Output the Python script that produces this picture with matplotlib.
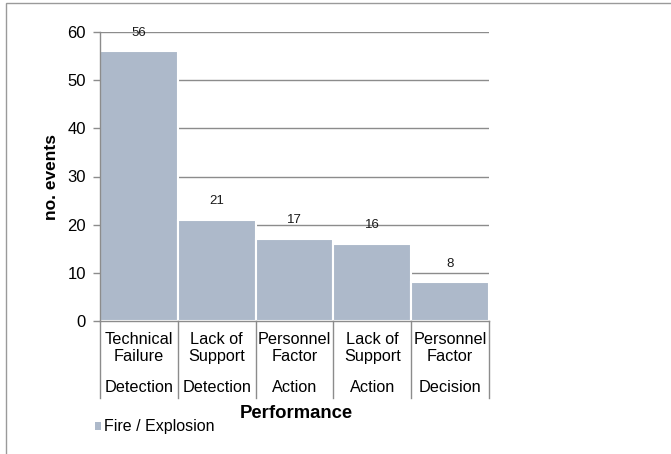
import matplotlib
matplotlib.use("Agg")
import matplotlib.pyplot as plt
from matplotlib.patches import Rectangle, Patch
from matplotlib.transforms import blended_transform_factory

plt.rcParams['font.family'] = ['Liberation Sans', 'DejaVu Sans']

# Data
factors = ["Technical\nFailure", "Lack of\nSupport", "Personnel\nFactor", "Lack of\nSupport", "Personnel\nFactor"]
stages = ["Detection", "Detection", "Action", "Action", "Decision"]
events = [56, 21, 17, 16, 8]
series_name = "Fire / Explosion"

W, H = 671, 454
fig = plt.figure(figsize=(W / 100, H / 100), dpi=100)

# Plot area in pixel coordinates
left_px, right_px, top_px, bottom_px = 100, 489, 32, 321
ax = fig.add_axes([left_px / W, 1 - bottom_px / H,
                   (right_px - left_px) / W, (bottom_px - top_px) / H])

bar_color = "#ADB9CA"
grid_color = "#8C8C8C"
x = list(range(len(events)))

ax.set_axisbelow(True)
ax.yaxis.grid(True, color=grid_color, linewidth=1.0)
bars = ax.bar(x, events, width=1.0, color=bar_color, edgecolor="white", linewidth=1.5, zorder=2)

ax.set_xlim(-0.5, len(events) - 0.5)
ax.set_ylim(0, 60)
ax.set_yticks(range(0, 61, 10))
ax.tick_params(axis="y", direction="out", length=5, width=1, color=grid_color,
               labelsize=12, pad=5)
ax.set_xticks([])

for s in ["top", "right"]:
    ax.spines[s].set_visible(False)
for s in ["left", "bottom"]:
    ax.spines[s].set_color(grid_color)
    ax.spines[s].set_linewidth(1.0)

# Value labels above bars
for xi, v in zip(x, events):
    ax.annotate(str(v), (xi, v), xytext=(0, 13.5), textcoords="offset points",
                ha="center", va="center", fontsize=9.5, color="#1a1a1a", zorder=3)

# Two-level category axis
trans = blended_transform_factory(ax.transData, ax.transAxes)
ax_h = bottom_px - top_px
sep_bottom = -(398 - bottom_px) / ax_h
for b in [i - 0.5 for i in range(len(events) + 1)]:
    ax.plot([b, b], [0, sep_bottom], transform=trans, color=grid_color,
            linewidth=1.0, clip_on=False)
row1_y = -(348 - bottom_px) / ax_h
row2_y = -(387 - bottom_px) / ax_h
for xi, f, st in zip(x, factors, stages):
    ax.text(xi, row1_y, f, transform=trans, ha="center", va="center",
            fontsize=11.7, linespacing=1.1, color="black")
    ax.text(xi, row2_y, st, transform=trans, ha="center", va="center",
            fontsize=11.7, color="black")

ax.set_ylabel("no. events", fontsize=12.5, fontweight="bold", labelpad=6)
fig.text(296 / W, 1 - 413 / H, "Performance", ha="center", va="center",
         fontsize=13.3, fontweight="bold")

# Legend
leg = fig.legend(handles=[Patch(facecolor=bar_color, edgecolor="none", label=series_name)],
                 loc="center left", bbox_to_anchor=(95 / W, 1 - 427 / H),
                 frameon=False, fontsize=11.5, handlelength=0.35, handleheight=0.35,
                 handletextpad=0.2, borderpad=0, borderaxespad=0)

# Outer chart border
fig.patches.append(Rectangle((6 / W, -0.05), 1.1, 1 - 3 / H + 0.05,
                             transform=fig.transFigure, fill=False,
                             edgecolor="#9A9A9A", linewidth=1.0))

fig.savefig("out.png", dpi=100)
